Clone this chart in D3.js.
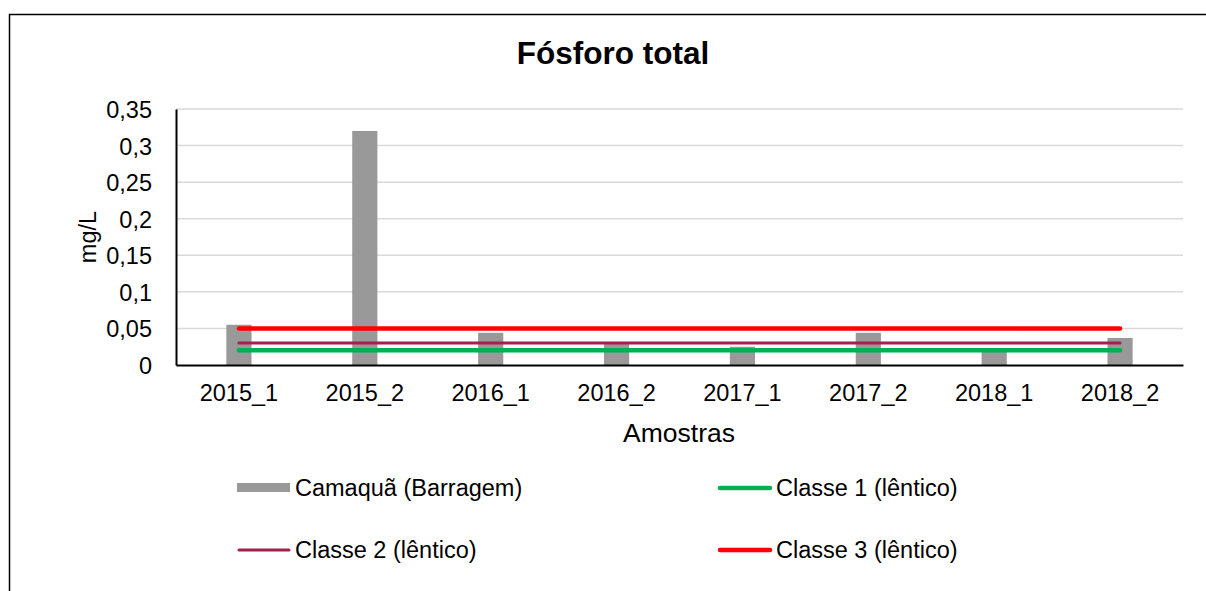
<!DOCTYPE html>
<html>
<head>
<meta charset="utf-8">
<script src="https://cdn.jsdelivr.net/npm/d3@7"></script>
<style>
  html, body { margin: 0; padding: 0; background: #fff; }
  svg { display: block; font-family: "Liberation Sans", Arial, sans-serif; }
</style>
</head>
<body>
<svg id="chart" width="1206" height="591"></svg>
<script>
// data
var amostras = ["2015_1", "2015_2", "2016_1", "2016_2", "2017_1", "2017_2", "2018_1", "2018_2"];
var camaqua = [0.055, 0.32, 0.044, 0.031, 0.025, 0.044, 0.023, 0.037];
var classe1 = [0.02, 0.02, 0.02, 0.02, 0.02, 0.02, 0.02, 0.02];
var classe2 = [0.03, 0.03, 0.03, 0.03, 0.03, 0.03, 0.03, 0.03];
var classe3 = [0.05, 0.05, 0.05, 0.05, 0.05, 0.05, 0.05, 0.05];
var yTicks = [0, 0.05, 0.1, 0.15, 0.2, 0.25, 0.3, 0.35];

var svg = d3.select("#chart");
var plotL = 176, plotR = 1183, plotT = 109, plotB = 365;
var tickFont = 23.5;

// outer frame (chart area border, cut off at right/bottom)
svg.append("rect")
  .attr("x", 9.5).attr("y", 14.5)
  .attr("width", 1300).attr("height", 700)
  .attr("fill", "none").attr("stroke", "#000").attr("stroke-width", 1.5);

var x = d3.scaleBand().domain(amostras).range([plotL, plotR]).paddingInner(0).paddingOuter(0);
var y = d3.scaleLinear().domain([0, 0.35]).range([plotB, plotT]);
var fmt = function (d) { return String(d).replace(".", ","); };

// gridlines
svg.append("g")
  .selectAll("line")
  .data(yTicks.slice(1))
  .join("line")
  .attr("x1", plotL).attr("x2", plotR)
  .attr("y1", function (d) { return y(d); }).attr("y2", function (d) { return y(d); })
  .attr("stroke", "#d9d9d9").attr("stroke-width", 1.5);

// y axis
var yAxis = svg.append("g")
  .attr("transform", "translate(" + plotL + ",0)")
  .call(d3.axisLeft(y).tickValues(yTicks).tickFormat(fmt).tickSize(0).tickPadding(24));
yAxis.select(".domain").attr("stroke", "#000").attr("stroke-width", 2);
yAxis.selectAll("text").attr("font-size", tickFont).attr("fill", "#000")
  .attr("font-family", "Liberation Sans, Arial, sans-serif").attr("dy", "0.36em");

// bars
var bw = x.bandwidth() / 5;
svg.append("g")
  .selectAll("rect")
  .data(camaqua)
  .join("rect")
  .attr("x", function (d, i) { return x(amostras[i]) + x.bandwidth() / 2 - bw / 2; })
  .attr("y", function (d) { return y(d); })
  .attr("width", bw)
  .attr("height", function (d) { return y(0) - y(d); })
  .attr("fill", "#999999");

// x axis
var xAxis = svg.append("g")
  .attr("transform", "translate(0," + plotB + ")")
  .call(d3.axisBottom(x).tickSize(0).tickPadding(19));
xAxis.select(".domain").attr("stroke", "#000").attr("stroke-width", 2);
xAxis.selectAll("text").attr("font-size", tickFont).attr("fill", "#000")
  .attr("font-family", "Liberation Sans, Arial, sans-serif");

// limit lines
var series = [
  { name: "Classe 1 (lêntico)", values: classe1, color: "#00b050", width: 4.5 },
  { name: "Classe 2 (lêntico)", values: classe2, color: "#a3214f", width: 3 },
  { name: "Classe 3 (lêntico)", values: classe3, color: "#ff0000", width: 4.5 }
];
var line = d3.line()
  .x(function (d, i) { return x(amostras[i]) + x.bandwidth() / 2; })
  .y(function (d) { return y(d); });
svg.append("g")
  .selectAll("path")
  .data(series)
  .join("path")
  .attr("d", function (s) { return line(s.values); })
  .attr("fill", "none")
  .attr("stroke", function (s) { return s.color; })
  .attr("stroke-width", function (s) { return s.width; })
  .attr("stroke-linecap", "round");

// titles
svg.append("text")
  .attr("x", 613).attr("y", 64)
  .attr("text-anchor", "middle")
  .attr("font-size", 31.5).attr("font-weight", "bold")
  .text("Fósforo total");
svg.append("text")
  .attr("x", 679).attr("y", 442)
  .attr("text-anchor", "middle")
  .attr("font-size", 26.5)
  .text("Amostras");
svg.append("text")
  .attr("transform", "translate(96,237) rotate(-90)")
  .attr("text-anchor", "middle")
  .attr("font-size", 23.5)
  .text("mg/L");

// legend
var legendItems = [
  { name: "Camaquã (Barragem)", type: "bar", color: "#999999", x: 237, y: 488 },
  { name: series[0].name, type: "line", color: series[0].color, width: 4.5, x: 718, y: 488 },
  { name: series[1].name, type: "line", color: series[1].color, width: 3, x: 237, y: 550 },
  { name: series[2].name, type: "line", color: series[2].color, width: 4.5, x: 718, y: 550 }
];
var lg = svg.append("g").selectAll("g").data(legendItems).join("g")
  .attr("transform", function (d) { return "translate(" + d.x + "," + d.y + ")"; });
lg.filter(function (d) { return d.type == "bar"; })
  .append("rect")
  .attr("x", 0).attr("y", -5).attr("width", 53).attr("height", 9)
  .attr("fill", function (d) { return d.color; });
lg.filter(function (d) { return d.type == "line"; })
  .append("line")
  .attr("x1", 2).attr("x2", 52).attr("y1", 0).attr("y2", 0)
  .attr("stroke", function (d) { return d.color; })
  .attr("stroke-width", function (d) { return d.width; })
  .attr("stroke-linecap", "round");
lg.append("text")
  .attr("x", 58).attr("y", 8)
  .attr("font-size", tickFont)
  .text(function (d) { return d.name; });
</script>
</body>
</html>
